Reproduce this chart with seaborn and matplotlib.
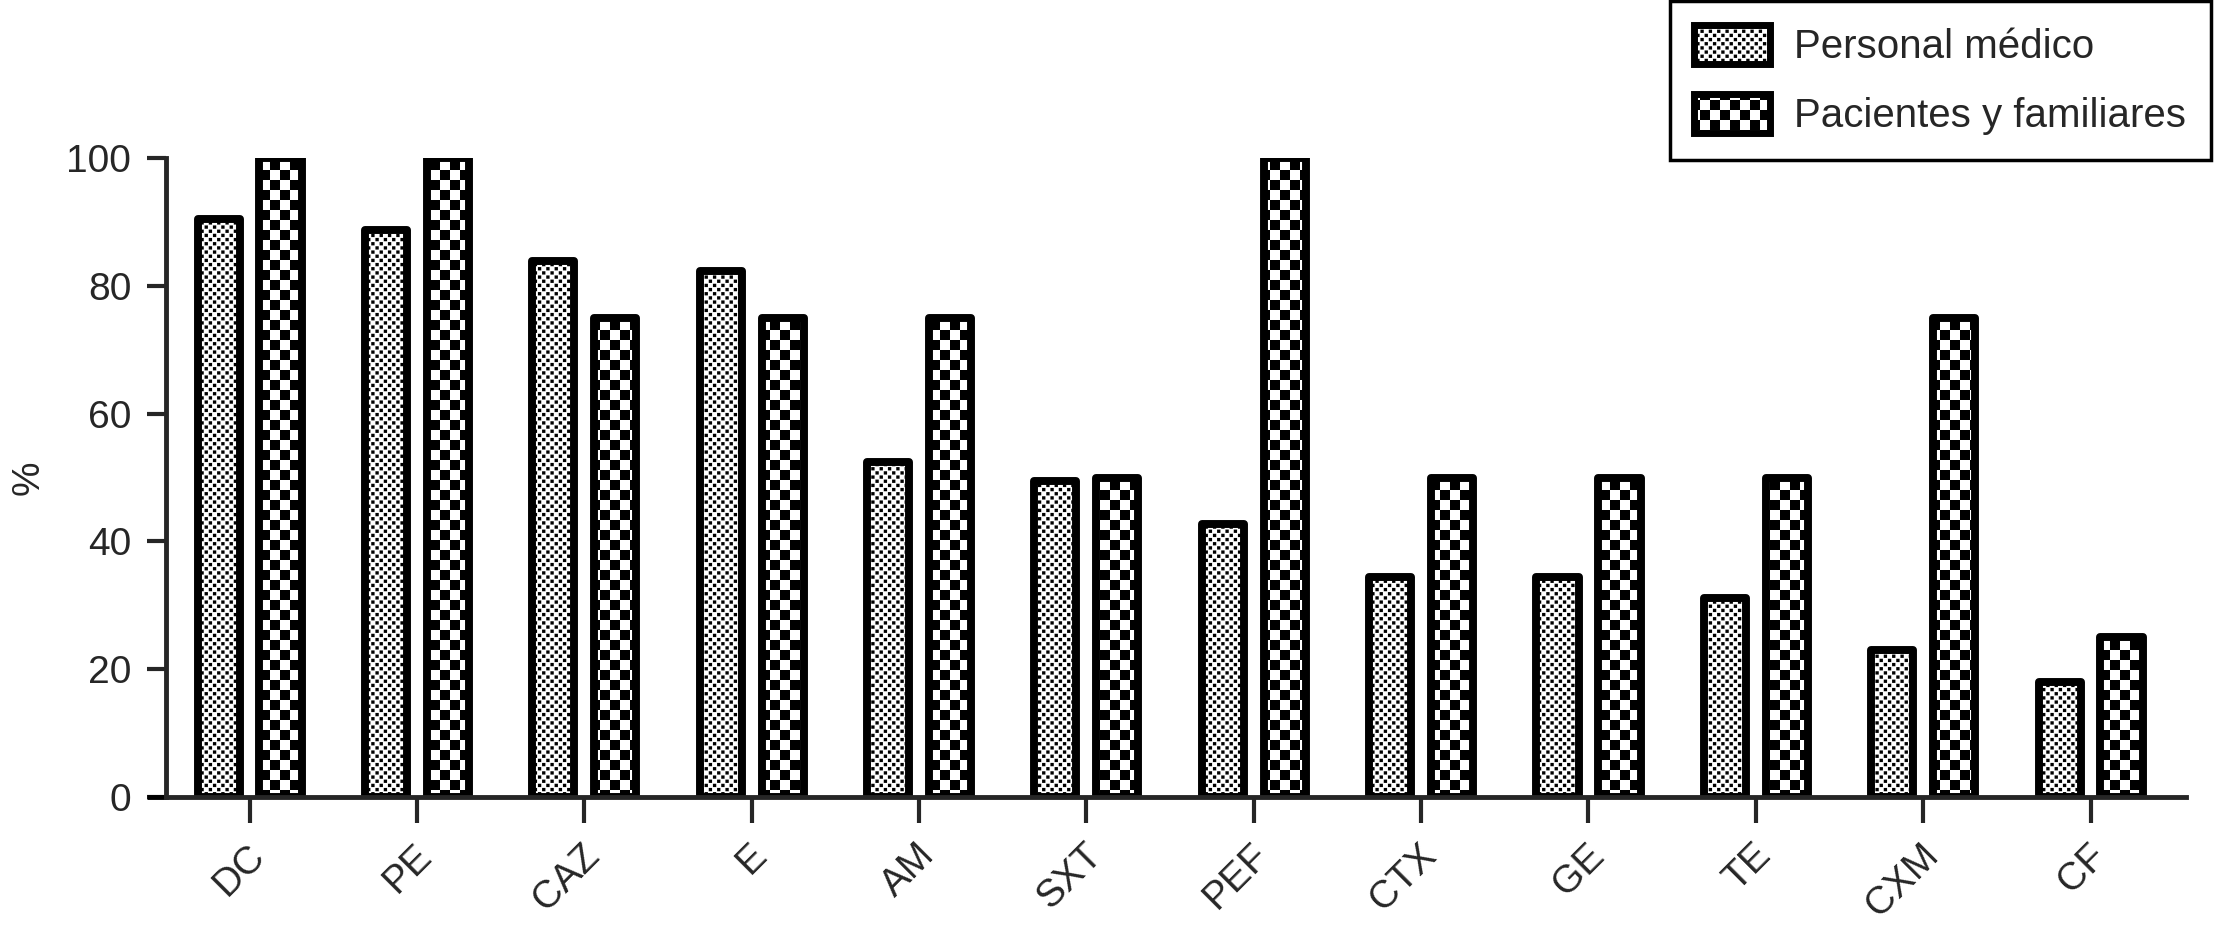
import numpy as np
import pandas as pd
import matplotlib
matplotlib.use("Agg")
import matplotlib.pyplot as plt
import matplotlib.hatch as mhatch
import matplotlib.transforms as mtrans
from matplotlib.path import Path
from matplotlib.patches import Patch
import seaborn as sns

# ---- data ----
categories = ["DC", "PE", "CAZ", "E", "AM", "SXT", "PEF", "CTX", "GE", "TE", "CXM", "CF"]
personal_medico = [90.5, 88.8, 83.8, 82.3, 52.5, 49.4, 42.8, 34.4, 34.4, 31.2, 23.0, 18.0]
pacientes_familiares = [100, 100, 75, 75, 75, 50, 100, 50, 50, 50, 75, 25]
series_labels = ["Personal médico", "Pacientes y familiares"]
yticks = [0, 20, 40, 60, 80, 100]


# ---- checkerboard hatch (style only) ----
class Checker(mhatch.HatchPatternBase):
    def __init__(self, hatch, density):
        self.n = 0
        self.frac = 1.0
        if "o" in hatch:
            self.n = 24
            self.frac = 0.8
        elif "O" in hatch:
            self.n = 10
        self.num_vertices = (self.n * self.n // 2) * 5 if self.n else 0

    def set_vertices_and_codes(self, vertices, codes):
        n = self.n
        s = 1.0 / n
        d = s * (1 - self.frac) / 2
        w = s * self.frac
        verts, cds = [], []
        for i in range(n):
            for j in range(n):
                if (i + j) % 2 == 0:
                    x0, y0 = i * s + d, j * s + d
                    verts += [(x0, y0), (x0 + w, y0), (x0 + w, y0 + w), (x0, y0 + w), (x0, y0)]
                    cds += [Path.MOVETO, Path.LINETO, Path.LINETO, Path.LINETO, Path.CLOSEPOLY]
        vertices[:] = np.array(verts)
        codes[:] = np.array(cds)


mhatch._hatch_types = [Checker]

sns.set_style("ticks")
plt.rcParams["font.family"] = ["Liberation Sans", "DejaVu Sans"]
plt.rcParams["hatch.linewidth"] = 0.0
plt.rcParams["hatch.color"] = "black"

df = pd.DataFrame({
    "Antibiótico": categories * 2,
    "Grupo": [series_labels[0]] * len(categories) + [series_labels[1]] * len(categories),
    "pct": personal_medico + pacientes_familiares,
})

fig = plt.figure(figsize=(22.15, 9.4), dpi=100)
ax = fig.add_axes([0.0749, 0.152, 0.912, 0.680])

sns.barplot(data=df, x="Antibiótico", y="pct", hue="Grupo", hue_order=series_labels,
            palette=["white", "white"], width=0.74, gap=0.32, edgecolor="black",
            linewidth=5.7, legend=False, ax=ax, zorder=2)

hatches = ["o", "O"]
for cont, h in zip(ax.containers, hatches):
    for bar in cont:
        bar.set_hatch(h)
        bar.set_joinstyle("round")

ax.set_xlim(-0.50, 11.57)
ax.set_ylim(0, 100)
ax.set_yticks(yticks)
ax.set_yticklabels([str(t) for t in yticks])
ax.set_xlabel("")
ax.set_ylabel("%", fontsize=28, labelpad=14)

for s in ["top", "right"]:
    ax.spines[s].set_visible(False)
for s in ["left", "bottom"]:
    ax.spines[s].set_linewidth(3.5)
    ax.spines[s].set_zorder(3)

ax.tick_params(axis="y", length=14, width=3, labelsize=28, pad=11)
ax.tick_params(axis="x", length=19, width=3, labelsize=28, pad=19)
shift = mtrans.ScaledTranslation(7 / 72, 0, fig.dpi_scale_trans)
for lab in ax.get_xticklabels():
    lab.set_rotation(45)
    lab.set_ha("right")
    lab.set_va("center")
    lab.set_rotation_mode("anchor")
    lab.set_transform(lab.get_transform() + shift)

# extend x-axis line left under the y ticks
ax.plot([-0.0095, 0], [0, 0], transform=ax.transAxes, clip_on=False, color="black", lw=3.5,
        solid_capstyle="butt", zorder=3)

handles = [Patch(facecolor="white", edgecolor="black", hatch=h, linewidth=5) for h in hatches]
leg = fig.legend(handles, series_labels, loc="upper right", bbox_to_anchor=(0.998, 0.999),
                 fontsize=29, frameon=True, fancybox=False, edgecolor="black", framealpha=1,
                 handlelength=1.9, handleheight=1.1, handletextpad=0.6, labelspacing=0.7,
                 borderpad=0.6, borderaxespad=0)
leg.get_frame().set_linewidth(2.5)

fig.savefig("out.png", dpi=100, facecolor="white")
